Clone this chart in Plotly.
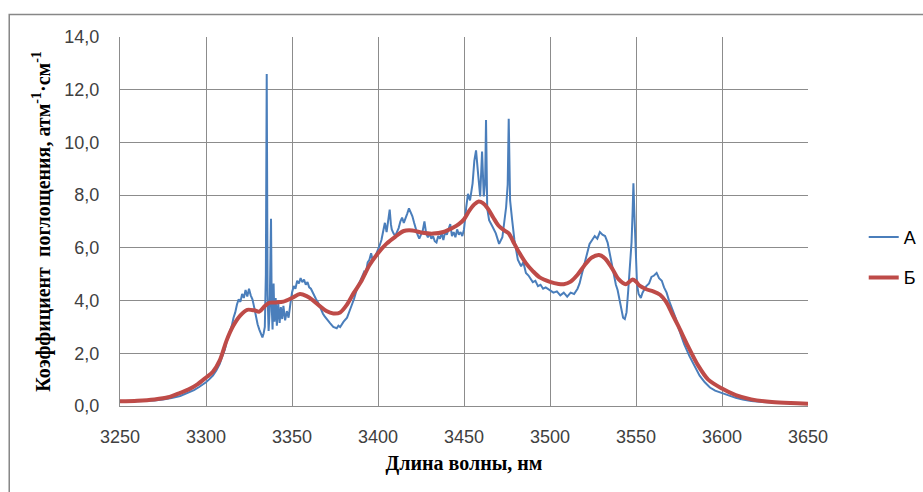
import plotly.graph_objects as go

# Series A (blue, measured) — wavelength (nm) and absorption coefficient
A_x = [3250, 3255, 3260, 3265, 3270, 3275, 3280, 3285, 3290, 3293, 3296, 3298, 3300, 3302, 3304, 3306, 3308, 3309, 3310, 3311,
       3312, 3313, 3314, 3315, 3316, 3317, 3318, 3319, 3320, 3321, 3322, 3323, 3324, 3325, 3326, 3327, 3328, 3329, 3330, 3331,
       3332, 3332.8, 3333.5, 3334.2, 3334.8, 3335.3, 3335.8, 3336.4, 3337.0, 3337.5, 3337.8, 3338.2, 3338.7, 3339.3, 3339.8, 3340.5, 3341.2, 3342, 3342.8, 3343.5,
       3344.3, 3345, 3346, 3347, 3348, 3349, 3350, 3351, 3352, 3353, 3354, 3355, 3356, 3357, 3358, 3359, 3360, 3361, 3362, 3363,
       3364, 3365, 3366, 3367, 3368, 3369, 3370, 3372, 3374, 3376, 3377, 3378, 3380, 3382, 3384, 3386, 3388, 3390, 3391, 3392,
       3393, 3394, 3395, 3396, 3397, 3398, 3399, 3400, 3401, 3402, 3403, 3404, 3405, 3406, 3406.8, 3407.5, 3408, 3409, 3410, 3411,
       3412, 3413, 3414, 3415, 3416, 3417, 3418, 3419, 3420, 3421, 3422, 3423, 3424, 3425, 3426, 3427, 3428, 3429, 3430, 3431,
       3432, 3433, 3434, 3435, 3436, 3437, 3438, 3439, 3440, 3441, 3442, 3443, 3444, 3445, 3446, 3447, 3448, 3449, 3450, 3451.3,
       3452.3, 3453.5, 3455, 3456, 3457, 3458, 3459.4, 3460.5, 3461.5, 3462.3, 3462.8, 3463.5, 3464.6, 3466.6, 3468.5, 3470.4, 3472.3, 3474.5, 3475.4, 3476,
       3476.8, 3478, 3479.3, 3481.3, 3483.2, 3484.5, 3486, 3487.5, 3489, 3490, 3491.5, 3493, 3494.5, 3496, 3497.5, 3500, 3502, 3504, 3506, 3508,
       3510, 3512, 3514, 3516, 3517.2, 3518.5, 3520, 3521.5, 3523, 3524.5, 3526, 3527.5, 3529, 3530.5, 3532, 3533.5, 3535, 3536.3, 3537.3, 3538.3,
       3539.3, 3540.3, 3541.2, 3542.5, 3543.5, 3544.5, 3545.5, 3546.5, 3547.4, 3548, 3548.5, 3549, 3549.5, 3550, 3550.6, 3551.5, 3552.8, 3553.8, 3554.7, 3556,
       3557.6, 3559, 3560.5, 3562, 3563.4, 3565, 3566.3, 3567.8, 3569.2, 3571, 3573, 3575, 3578, 3581, 3584, 3587, 3590, 3593, 3596, 3600,
       3604, 3608, 3612, 3617, 3622, 3629, 3636, 3643, 3650]
A_y = [0.15, 0.16, 0.17, 0.19, 0.21, 0.25, 0.30, 0.38, 0.50, 0.60, 0.72, 0.80, 0.90, 1.02, 1.15, 1.35, 1.60, 1.80, 2.00, 2.15,
       2.45, 2.60, 2.85, 3.05, 3.35, 3.55, 3.85, 4.05, 3.95, 4.25, 4.10, 4.40, 4.15, 4.45, 4.20, 4.05, 3.75, 3.40, 3.10, 2.90,
       2.70, 2.60, 2.75, 3.00, 5.00, 12.60, 4.20, 2.85, 3.60, 5.50, 7.10, 3.80, 2.90, 4.65, 3.20, 4.10, 3.05, 3.90, 3.15, 3.75,
       3.30, 3.80, 3.25, 3.60, 3.35, 3.85, 4.30, 4.55, 4.45, 4.75, 4.65, 4.85, 4.70, 4.80, 4.60, 4.70, 4.50, 4.45, 4.30, 4.20,
       4.05, 3.95, 3.80, 3.60, 3.50, 3.40, 3.30, 3.15, 3.00, 2.95, 3.05, 3.00, 3.20, 3.35, 3.70, 4.05, 4.50, 4.85, 4.95, 5.10,
       5.05, 5.45, 5.55, 5.80, 5.50, 5.60, 5.75, 5.90, 6.10, 6.30, 6.60, 6.95, 6.60, 7.00, 7.45, 6.90, 6.70, 6.55, 6.45, 6.60,
       6.75, 7.00, 7.15, 6.95, 7.10, 7.30, 7.50, 7.35, 7.20, 6.95, 6.70, 6.50, 6.35, 6.50, 6.65, 7.00, 6.55, 6.40, 6.55, 6.35,
       6.45, 6.25, 6.20, 6.45, 6.35, 6.55, 6.30, 6.60, 6.50, 6.70, 6.90, 6.45, 6.60, 6.40, 6.70, 6.50, 6.60, 6.45, 6.70, 7.55,
       8.05, 7.80, 8.45, 9.30, 9.70, 8.95, 7.95, 9.65, 7.95, 8.50, 10.85, 7.50, 7.05, 6.80, 6.55, 6.15, 6.40, 7.55, 8.40, 10.90,
       7.80, 7.05, 6.30, 5.55, 5.30, 5.45, 5.05, 4.95, 4.80, 4.70, 4.75, 4.55, 4.60, 4.45, 4.50, 4.40, 4.30, 4.35, 4.20, 4.30,
       4.15, 4.30, 4.25, 4.45, 4.65, 5.00, 5.40, 5.85, 6.15, 6.30, 6.45, 6.35, 6.60, 6.50, 6.45, 6.20, 5.70, 5.25, 4.90, 4.60,
       4.40, 4.05, 3.75, 3.35, 3.30, 3.55, 4.40, 5.20, 6.20, 7.30, 8.45, 7.40, 6.40, 5.20, 4.60, 4.25, 4.10, 4.30, 4.40, 4.55,
       4.65, 4.90, 4.95, 5.05, 4.85, 4.75, 4.50, 4.30, 4.00, 3.70, 3.35, 2.90, 2.35, 1.90, 1.50, 1.15, 0.90, 0.70, 0.58, 0.48,
       0.38, 0.31, 0.25, 0.19, 0.16, 0.13, 0.11, 0.10, 0.09]

# Series Б (red, smoothed)
B_x = [3250, 3260, 3270, 3278, 3285, 3290, 3295, 3300, 3304, 3308, 3312, 3316, 3320, 3324, 3328, 3331, 3334, 3337, 3341, 3345,
       3350, 3354.6, 3358.5, 3362, 3366, 3370, 3374, 3378, 3382, 3386, 3390, 3395, 3400, 3405, 3410, 3415, 3420, 3426, 3432, 3438,
       3443.5, 3447, 3450, 3453, 3456, 3458.5, 3461, 3464, 3467, 3470, 3473, 3476, 3478.5, 3482, 3486, 3490, 3494, 3500, 3505, 3508,
       3512, 3516, 3520, 3524, 3528.5, 3532, 3536, 3540, 3544, 3548, 3550, 3552, 3556, 3560, 3564, 3567.5, 3571, 3575, 3580, 3586,
       3592, 3600, 3608, 3617, 3629, 3640, 3650]
B_y = [0.18, 0.20, 0.25, 0.33, 0.50, 0.63, 0.82, 1.08, 1.30, 1.73, 2.49, 3.06, 3.44, 3.65, 3.63, 3.58, 3.78, 3.92, 3.93, 3.96,
       4.10, 4.25, 4.17, 4.02, 3.80, 3.60, 3.51, 3.55, 3.85, 4.30, 4.70, 5.34, 5.80, 6.16, 6.42, 6.64, 6.66, 6.57, 6.54, 6.60,
       6.76, 6.90, 7.08, 7.40, 7.65, 7.76, 7.70, 7.48, 7.15, 6.85, 6.68, 6.55, 6.25, 5.83, 5.42, 5.12, 4.88, 4.71, 4.63, 4.62,
       4.72, 4.98, 5.33, 5.62, 5.73, 5.60, 5.23, 4.80, 4.62, 4.80, 4.72, 4.57, 4.43, 4.35, 4.22, 3.95, 3.50, 2.98, 2.30, 1.55,
       1.00, 0.66, 0.41, 0.25, 0.15, 0.11, 0.09]

series_names = ["А", "Б"]
x_title = "Длина волны, нм"
y_title = "Коэффициент  поглощения, атм<sup>-1</sup>·см<sup>-1</sup>"

GRID = "#8c8c8c"
TICK_FONT = dict(family="Liberation Sans", size=18, color="#404040")
TITLE_FONT = dict(family="Liberation Serif", size=20, color="#000000")

fig = go.Figure()
fig.add_trace(go.Scatter(x=A_x, y=A_y, mode="lines", name=series_names[0],
                         line=dict(color="#4a7ebb", width=2), legendgroup="a"))
fig.add_trace(go.Scatter(x=B_x, y=B_y, mode="lines", name=series_names[1],
                         line=dict(color="#be4b48", width=4, shape="spline", smoothing=0.8), legendgroup="b"))

fig.update_layout(
    width=923, height=492,
    margin=dict(l=120, r=115, t=37, b=86, autoexpand=False),
    paper_bgcolor="white", plot_bgcolor="white",
    separators=", ",
    showlegend=True,
    legend=dict(x=1.081, y=0.403, xanchor="left", yanchor="middle",
                font=dict(family="Liberation Sans", size=18, color="#000000"),
                tracegroupgap=14, bgcolor="rgba(0,0,0,0)"),
    xaxis=dict(range=[3250, 3650], dtick=50, tick0=3250, tickformat="d",
               showgrid=True, gridcolor=GRID, gridwidth=1,
               showline=True, linecolor=GRID, linewidth=1,
               zeroline=False, ticks="", ticklabelstandoff=14,
               tickfont=TICK_FONT,
               title=dict(text="<b>" + x_title + "</b>", font=TITLE_FONT, standoff=10)),
    yaxis=dict(range=[0, 14], dtick=2, tickformat=".1f",
               showgrid=True, gridcolor=GRID, gridwidth=1,
               showline=True, linecolor=GRID, linewidth=1,
               zeroline=False, ticks="", ticklabelstandoff=16,
               tickfont=TICK_FONT,
               title=dict(text="<b>" + y_title + "</b>", font=TITLE_FONT, standoff=8)),
    shapes=[dict(type="rect", xref="paper", yref="paper",
                 x0=-0.161, x1=1.3, y0=-0.4, y1=1.061,
                 line=dict(color="#878787", width=1.5), fillcolor="rgba(0,0,0,0)", layer="below")],
)

fig.write_html("out.html")
